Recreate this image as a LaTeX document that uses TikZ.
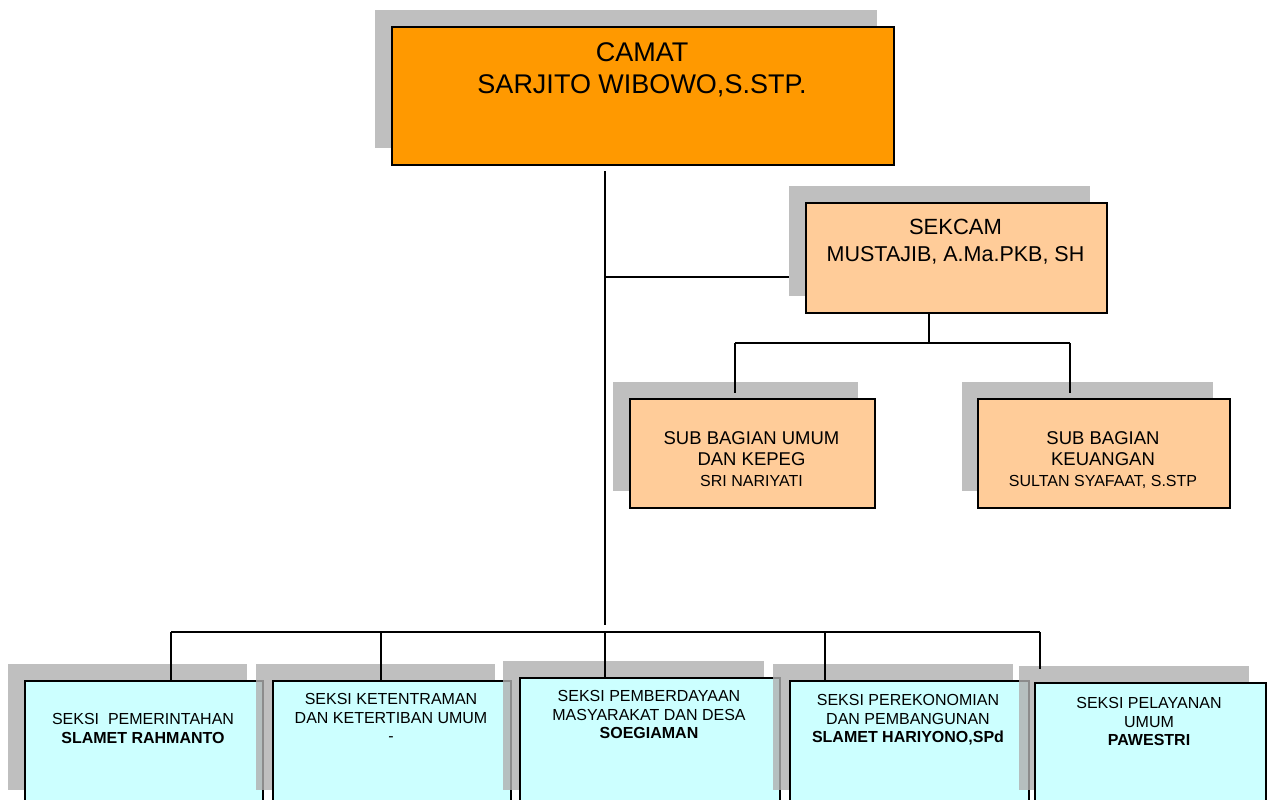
\documentclass[tikz,border=0pt]{standalone}
\usepackage{fontspec}
\setmainfont{Liberation Sans}
\definecolor{camatfill}{HTML}{FF9900}
\definecolor{peach}{HTML}{FFCC99}
\definecolor{seksifill}{HTML}{CCFFFF}
\definecolor{shadowgray}{HTML}{B0B0B0}
\begin{document}
\begin{tikzpicture}[x=1pt,y=-1pt,
  box/.style={draw=black, line width=1.7pt, inner sep=0pt, anchor=north west},
  shadowbox/.style={fill=shadowgray, fill opacity=0.8},
  txt/.style={anchor=north, align=center, inner sep=0pt, text=black},
  conn/.style={draw=black, line width=1.6pt}]
\useasboundingbox (0,0) rectangle (1271,800);
\clip (0,0) rectangle (1271,800);
\fill[white] (0,0) rectangle (1271,800);

% CAMAT
\fill[shadowbox] (375,10) rectangle (877,148);
\node[box, fill=camatfill, minimum width=502pt, minimum height=138pt] (camat) at (391,26) {};
\node[txt, font={\fontsize{27}{32}\selectfont}] (camatT) at (642,42.3) {CAMAT\\SARJITO WIBOWO,S.STP.};

% SEKCAM
\fill[shadowbox] (789,186) rectangle (1090,296);
\node[box, fill=peach, minimum width=301pt, minimum height=110pt] (sekcam) at (805,202) {};
\node[txt, font={\fontsize{22}{27}\selectfont}] (sekcamT) at (955.5,219) {SEKCAM\\{\fontsize{21.5}{27}\selectfont MUSTAJIB, A.Ma.PKB, SH}};

% SUB BAGIAN
\fill[shadowbox] (613,382) rectangle (858,491);
\node[box, fill=peach, minimum width=245pt, minimum height=109pt] (sbu) at (629,398) {};
\node[txt, font={\fontsize{18.5}{21}\selectfont}] (sbuT) at (751.5,431.4) {SUB BAGIAN UMUM\\DAN KEPEG\\{\fontsize{16}{21}\selectfont SRI NARIYATI}};

\fill[shadowbox] (962,382) rectangle (1213,491);
\node[box, fill=peach, minimum width=252pt, minimum height=109pt] (sbk) at (977,398) {};
\node[txt, font={\fontsize{18.5}{21}\selectfont}] (sbkT) at (1103,431.4) {SUB BAGIAN\\KEUANGAN\\{\fontsize{16}{21}\selectfont SULTAN SYAFAAT, S.STP}};

% SEKSI boxes
\fill[shadowbox] (8,664) rectangle (247,790);
\node[box, fill=seksifill, minimum width=238pt, minimum height=140pt] (s1) at (24,680) {};
\node[txt, font={\fontsize{16}{18.5}\selectfont}] (s1T) at (143,713.3) {SEKSI\ \ PEMERINTAHAN\\\textbf{SLAMET RAHMANTO}};

\fill[shadowbox] (256,664) rectangle (495,790);
\node[box, fill=seksifill, minimum width=238pt, minimum height=140pt] (s2) at (272,680) {};
\node[txt, font={\fontsize{16}{18.5}\selectfont}] (s2T) at (391,693.3) {SEKSI KETENTRAMAN\\DAN KETERTIBAN UMUM\\-};

\fill[shadowbox] (503,661) rectangle (764,790);
\node[box, fill=seksifill, minimum width=260pt, minimum height=143pt] (s3) at (519,677) {};
\node[txt, font={\fontsize{16}{18.5}\selectfont}] (s3T) at (649,690.3) {SEKSI PEMBERDAYAAN\\MASYARAKAT DAN DESA\\\textbf{SOEGIAMAN}};

\fill[shadowbox] (773,664) rectangle (1013,790);
\node[box, fill=seksifill, minimum width=239pt, minimum height=140pt] (s4) at (789,680) {};
\node[txt, font={\fontsize{16}{18.5}\selectfont}] (s4T) at (908,694.3) {SEKSI PEREKONOMIAN\\DAN PEMBANGUNAN\\\textbf{SLAMET HARIYONO,SPd}};

\fill[shadowbox] (1019,666) rectangle (1249,790);
\node[box, fill=seksifill, minimum width=231pt, minimum height=138pt] (s5) at (1034,682) {};
\node[txt, font={\fontsize{16}{18.5}\selectfont}] (s5T) at (1149,697.3) {SEKSI PELAYANAN\\UMUM\\\textbf{PAWESTRI}};

% junction coordinates
\coordinate (mainTop) at (605,171);
\coordinate (mainEnd) at (605,625);
\coordinate (sekJ) at (605,277);
\coordinate (sekIn) at (789,277);
\coordinate (sekOut) at (929,312);
\coordinate (subBus) at (929,343);
\coordinate (subL) at (735,343);
\coordinate (subR) at (1070,343);
\coordinate (subLe) at (735,393);
\coordinate (subRe) at (1070,393);
\coordinate (busL) at (171,632);
\coordinate (busR) at (1040,632);
\coordinate (s5e) at (1040,669);

% connectors
\draw[conn] (mainTop) -- (mainEnd);
\draw[conn] (sekJ) -- (sekIn);
\draw[conn] (sekOut) -- (subBus);
\draw[conn] (subL) -- (subR);
\draw[conn] (subL) -- (subLe);
\draw[conn] (subR) -- (subRe);
\draw[conn] (busL) -- (busR);
\draw[conn] (busL) -- (busL |- s1.north);
\draw[conn] (381,632) -- (381,680);
\draw[conn] (605,632) -- (605,677);
\draw[conn] (825,632) -- (825,680);
\draw[conn] (busR) -- (s5e);
\end{tikzpicture}
\end{document}
